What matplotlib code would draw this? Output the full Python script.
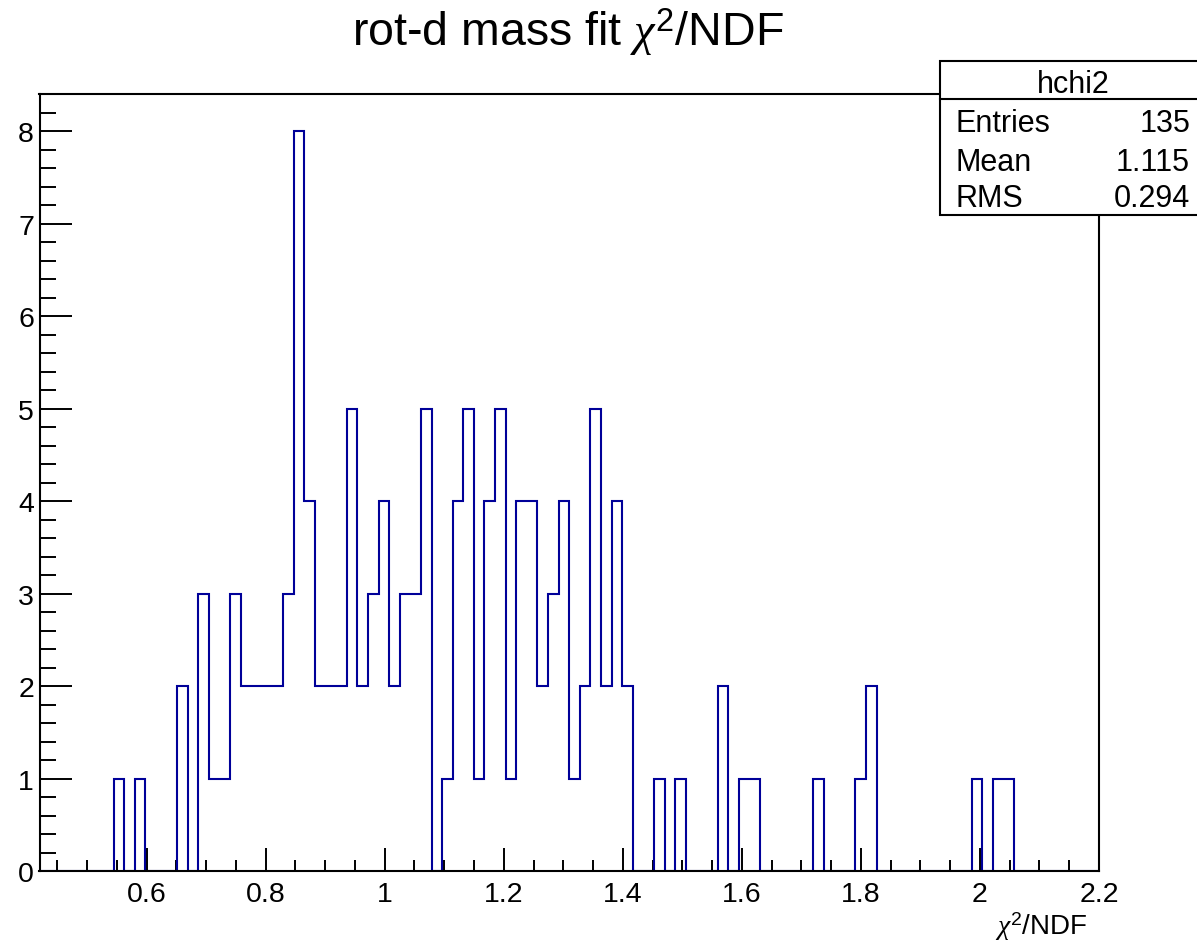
import numpy as np
import matplotlib
matplotlib.use("Agg")
import matplotlib.pyplot as plt
from matplotlib.patches import Rectangle
from matplotlib.ticker import MultipleLocator

plt.rcParams["font.family"] = ["Liberation Sans", "DejaVu Sans"]
plt.rcParams["mathtext.fontset"] = "custom"
plt.rcParams["mathtext.rm"] = "Liberation Sans"
plt.rcParams["mathtext.it"] = "Liberation Serif:italic"

# histogram definition: hchi2, 100 bins on [0.42, 2.2]
HIST_NAME = "hchi2"
NBINS = 100
XMIN, XMAX = 0.42, 2.2
counts = [
    0, 0, 0, 0, 0, 0, 0, 1, 0, 1,
    0, 0, 0, 2, 0, 3, 1, 1, 3, 2,
    2, 2, 2, 3, 8, 4, 2, 2, 2, 5,
    2, 3, 4, 2, 3, 3, 5, 0, 1, 4,
    5, 1, 4, 5, 1, 4, 4, 2, 3, 4,
    1, 2, 5, 2, 4, 2, 0, 0, 1, 0,
    1, 0, 0, 0, 2, 0, 1, 1, 0, 0,
    0, 0, 0, 1, 0, 0, 0, 1, 2, 0,
    0, 0, 0, 0, 0, 0, 0, 0, 1, 0,
    1, 1, 0, 0, 0, 0, 0, 0, 0, 0,
]
stat_labels = ["Entries", "Mean", "RMS"]
stat_values = ["135", "1.115", "0.294"]
title = r"rot-d mass fit $\chi^{2}$/NDF"
xlabel = r"$\chi^{2}$/NDF"

W, H = 1197, 953
fig = plt.figure(figsize=(W / 100, H / 100), dpi=100)
fig.patch.set_facecolor("white")

# frame position in pixels
L, R, T, B = 39.5, 1099.0, 95.0, 872.3
ax = fig.add_axes([L / W, 1 - B / H, (R - L) / W, (B - T) / H])

edges = np.linspace(XMIN, XMAX, NBINS + 1)
ax.stairs(counts, edges, color="#000099", linewidth=1.5, baseline=0, zorder=2)

ax.set_xlim(XMIN, XMAX)
ax.set_ylim(0, 1.05 * max(counts))

for s in ax.spines.values():
    s.set_linewidth(1.5)
    s.set_zorder(3)

ax.xaxis.set_major_locator(MultipleLocator(0.2))
ax.xaxis.set_minor_locator(MultipleLocator(0.05))
ax.yaxis.set_major_locator(MultipleLocator(1))
ax.yaxis.set_minor_locator(MultipleLocator(0.2))

ax.tick_params(axis="x", which="major", direction="in", length=16.5, width=1.4,
               labelsize=20.5, pad=7)
ax.tick_params(axis="x", which="minor", direction="in", length=8, width=1.4)
ax.tick_params(axis="y", which="major", direction="in", length=23, width=1.4,
               labelsize=20.5, pad=4)
ax.tick_params(axis="y", which="minor", direction="in", length=11.5, width=1.4)
ax.tick_params(top=False, right=False, which="both")

ax.xaxis.set_major_formatter(plt.FuncFormatter(lambda v, p: f"{v:g}"))
ax.yaxis.set_major_formatter(plt.FuncFormatter(lambda v, p: f"{v:g}"))

# title and axis label
fig.text(568 / W, 1 - 46.7 / H, title, ha="center", va="baseline", fontsize=33.5)
fig.text(1088 / W, 1 - 935 / H, xlabel, ha="right", va="baseline", fontsize=20)

# statistics box
bx0, bx1, by0, by1, bdiv = 940, 1200, 215.7, 61.7, 100.0
fig.patches.append(Rectangle((bx0 / W, 1 - by0 / H), (bx1 - bx0) / W, (by0 - by1) / H,
                             transform=fig.transFigure, facecolor="white",
                             edgecolor="black", linewidth=1.5, zorder=5))
fig.lines.append(plt.Line2D([bx0 / W, 1.0], [1 - bdiv / H, 1 - bdiv / H],
                            transform=fig.transFigure, color="black",
                            linewidth=1.5, zorder=6))
fig.text(1073 / W, 1 - 93.3 / H, HIST_NAME, ha="center", va="baseline",
         fontsize=22, zorder=7)
for lab, val, yb in zip(stat_labels, stat_values, [131.7, 170.7, 206.7]):
    fig.text(956 / W, 1 - yb / H, lab, ha="left", va="baseline", fontsize=22, zorder=7)
    fig.text(1190 / W, 1 - yb / H, val, ha="right", va="baseline", fontsize=22, zorder=7)

fig.savefig("out.png", dpi=100)
